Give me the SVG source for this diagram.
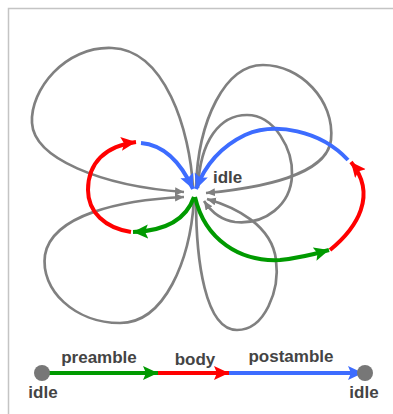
<svg xmlns="http://www.w3.org/2000/svg" width="393" height="414" viewBox="0 0 393 414">
<style>
.lbl{font-family:"Liberation Sans",Arial,sans-serif;font-weight:bold;font-size:17px;fill:#444}
.g{fill:none;stroke:#808080;stroke-width:2.7}
.r{fill:none;stroke:#ff0000;stroke-width:4}
.gr{fill:none;stroke:#009a00;stroke-width:4}
.b{fill:none;stroke:#3d6cff;stroke-width:4}
</style>
<defs>
<marker id="ag" markerUnits="userSpaceOnUse" markerWidth="12" markerHeight="10" refX="9" refY="4" orient="auto" viewBox="0 0 12 10"><path d="M0,0 L9,4 L0,8 Z" fill="#808080"/></marker>
<marker id="ar" markerUnits="userSpaceOnUse" markerWidth="18" markerHeight="16" refX="15" refY="7" orient="auto" viewBox="0 0 18 16"><path d="M0,0 L15,7 L0,14 L3,7 Z" fill="#ff0000"/></marker>
<marker id="agr" markerUnits="userSpaceOnUse" markerWidth="18" markerHeight="16" refX="15" refY="7" orient="auto" viewBox="0 0 18 16"><path d="M0,0 L15,7 L0,14 L3,7 Z" fill="#009a00"/></marker>
<marker id="ab" markerUnits="userSpaceOnUse" markerWidth="18" markerHeight="16" refX="15" refY="7" orient="auto" viewBox="0 0 18 16"><path d="M0,0 L15,7 L0,14 L3,7 Z" fill="#3d6cff"/></marker>
</defs>
<rect x="8.5" y="8.5" width="420" height="430" fill="#fff" stroke="#c4c4c4" stroke-width="1.5"/>
<g id="connectors">
<path class="g" d="M193,188 C190,130 165,50 112,48 C65,46 30,90 32,123 C34,158 100,186 184,192" marker-end="url(#ag)"/>
<path class="g" d="M196,188 C198,120 225,65 263,65 C300,65 335,100 331,140 C327,175 260,188 206,193" marker-end="url(#ag)"/>
<path class="g" d="M198,188 C200,140 220,115 247,115 C275,115 293,150 292,175 C291,205 265,225 235,222 C220,220 210,210 204,201" marker-end="url(#ag)"/>
<path class="g" d="M196,200 C196,260 205,330 237,330 C265,330 280,290 276,260 C272,225 235,207 207,199" marker-end="url(#ag)"/>
<path class="g" d="M194,200 C190,260 165,323 120,323 C75,323 40,290 45,255 C52,215 120,200 184,197" marker-end="url(#ag)"/>
<path class="r" d="M131,232 C105,228 88,212 88,190 C88,163 105,146 136,142" marker-end="url(#ar)"/>
<path class="b" d="M141,143 C165,145 182,165 193,189" marker-end="url(#ab)"/>
<path class="gr" d="M194,197 C186,220 165,231 133,232" marker-end="url(#agr)"/>
<path class="b" d="M348,160 C320,130 275,122 245,135 C220,147 205,165 196,189" marker-end="url(#ab)"/>
<path class="r" d="M330,250 C357,228 378,195 351,162" marker-end="url(#ar)"/>
<path class="gr" d="M195,197 C205,240 240,262 280,260 C300,258 315,254 329,250" marker-end="url(#agr)"/>
<path class="gr" d="M42,373 L158,373" marker-end="url(#agr)"/>
<path class="r" d="M158,373 L229,373" marker-end="url(#ar)"/>
<path class="b" d="M229,373 L363,373" marker-end="url(#ab)"/>
<text class="lbl" x="99" y="363" text-anchor="middle">preamble</text>
<text class="lbl" x="195" y="365" text-anchor="middle">body</text>
<text class="lbl" x="291" y="362" text-anchor="middle">postamble</text>
</g>
<g id="node-idle-center">
<text class="lbl" x="213" y="183">idle</text>
</g>
<g id="node-idle-start">
<circle cx="42" cy="373" r="8" fill="#777"/>
<text class="lbl" x="43" y="398" text-anchor="middle">idle</text>
</g>
<g id="node-idle-end">
<circle cx="365" cy="373" r="8" fill="#777"/>
<text class="lbl" x="364" y="398" text-anchor="middle">idle</text>
</g>
</svg>
